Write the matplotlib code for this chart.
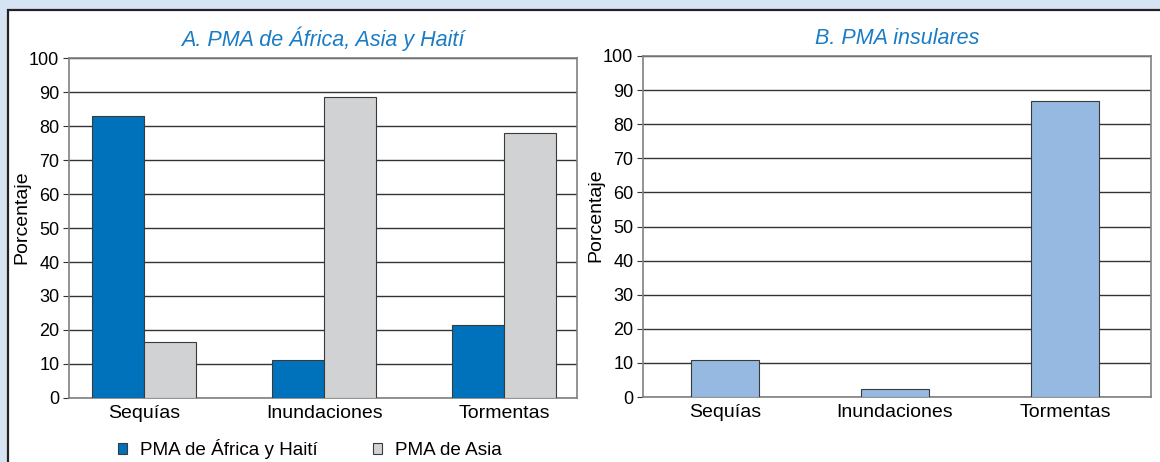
import matplotlib.pyplot as plt
from matplotlib.patches import Rectangle, Patch

plt.rcParams['font.family'] = ['Liberation Sans', 'DejaVu Sans']

# Data
categories = ['Sequías', 'Inundaciones', 'Tormentas']
africa_haiti = [83, 11.2, 21.5]
asia = [16.5, 88.5, 78]
insulares = [10.8, 2.3, 86.8]
yticks = list(range(0, 101, 10))

blue = '#0072bc'
grey = '#d1d2d4'
light_blue = '#95b9e1'
title_color = '#1a7cc4'

W, H = 1160, 462
fig = plt.figure(figsize=(W / 100, H / 100), dpi=100)
fig.patch.set_facecolor('#d6e3f3')

# white panel with dark border on left/top
fig.patches.append(Rectangle((8 / W, -0.1), 1, 1.1 - 10 / H, transform=fig.transFigure,
                             facecolor='white', edgecolor='#222222', linewidth=1.6,
                             zorder=-10))


def style_axes(ax):
    ax.set_zorder(2)
    ax.set_ylim(0, 100)
    ax.set_yticks(yticks)
    ax.grid(axis='y', color='#333333', linewidth=1.0)
    ax.set_axisbelow(True)
    for s in ax.spines.values():
        s.set_color('#808080')
        s.set_linewidth(1.2)
    ax.tick_params(axis='y', length=4, color='#333333', labelsize=13, pad=3)
    ax.tick_params(axis='x', length=0, labelsize=14, pad=5)
    ax.set_ylabel('Porcentaje', fontsize=14)
    ax.yaxis.set_label_coords(-0.077, 0.533)


def fig_rect(x0, y_top, x1, y_bot):
    return [x0 / W, 1 - y_bot / H, (x1 - x0) / W, (y_bot - y_top) / H]


# Panel A
ax1 = fig.add_axes(fig_rect(69, 58, 577, 398))
x = list(range(len(categories)))
bw = 0.289
ax1.bar([i - bw / 2 for i in x], africa_haiti, width=bw, color=blue,
        edgecolor='#3a3a3a', linewidth=0.8, zorder=3)
ax1.bar([i + bw / 2 for i in x], asia, width=bw, color=grey,
        edgecolor='#3a3a3a', linewidth=0.8, zorder=3)
ax1.set_xlim(-0.417, 2.405)
ax1.set_xticks(x)
ax1.set_xticklabels(categories)
style_axes(ax1)
ax1.set_title('A. PMA de África, Asia y Haití', fontsize=15.5, style='italic',
              color=title_color, pad=9)

# Panel B
ax2 = fig.add_axes(fig_rect(643, 56, 1151, 397))
ax2.bar(x, insulares, width=0.4, color=light_blue, edgecolor='#3a3a3a',
        linewidth=0.8, zorder=3)
ax2.set_xlim(-0.482, 2.506)
ax2.set_xticks(x)
ax2.set_xticklabels(categories)
style_axes(ax2)
ax2.set_title('B. PMA insulares', fontsize=15.5, style='italic',
              color=title_color, pad=9)

# Legend
handles = [Patch(facecolor=blue, edgecolor='#3a3a3a', linewidth=0.8),
           Patch(facecolor=grey, edgecolor='#3a3a3a', linewidth=0.8)]
fig.legend(handles, ['PMA de África y Haití', 'PMA de Asia'],
           loc='center left', bbox_to_anchor=(118 / W, 1 - 449 / H),
           ncol=2, frameon=False, fontsize=13.6, handlelength=0.5,
           handleheight=0.5, handletextpad=0.68, columnspacing=2.9,
           borderaxespad=0, borderpad=0)

plt.savefig('out.png', dpi=100, facecolor=fig.get_facecolor())
